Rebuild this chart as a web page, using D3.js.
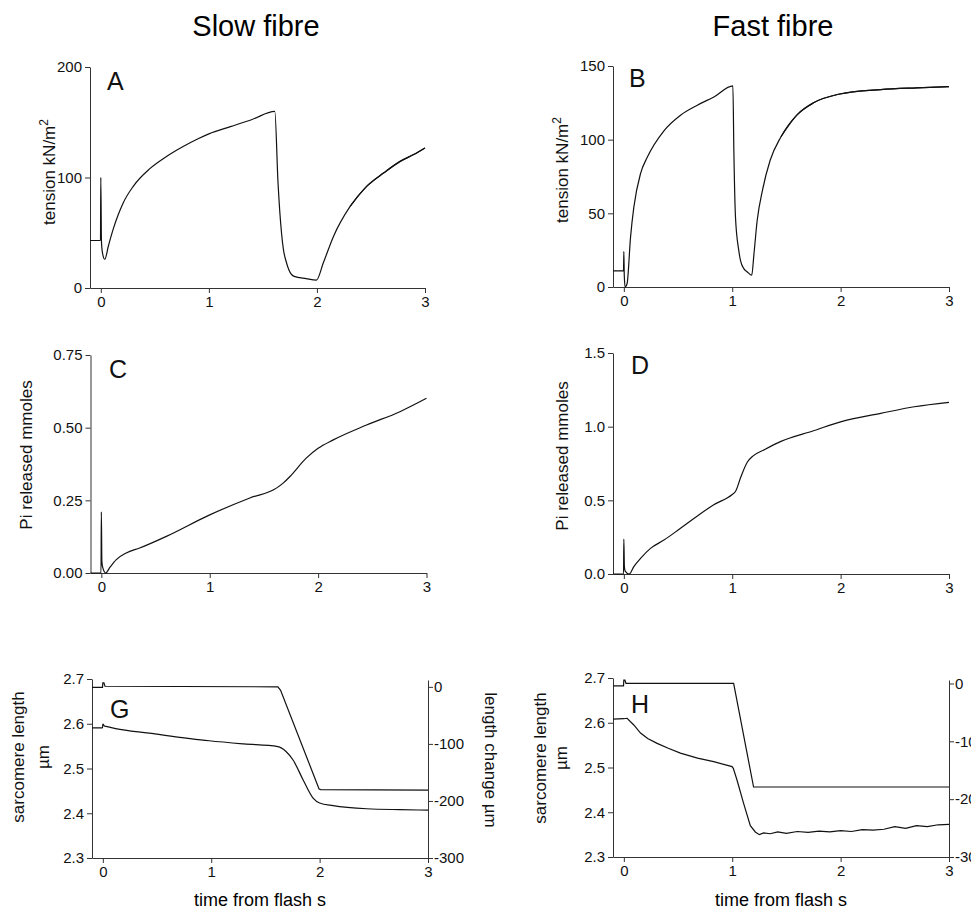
<!DOCTYPE html>
<html lang="en">
<head>
<meta charset="UTF-8">
<script src="https://d3js.org/d3.v7.min.js"></script>
<title>Slow and fast fibre</title>
<style>
  body { margin: 0; background: #fff; }
  svg { display: block; font-family: Arial, "Liberation Sans", sans-serif; }
  .axis path, .axis line { stroke: #333; }
  .axis text { font-size: 15px; fill: #111; }
  .trace { fill: none; stroke: #111; stroke-width: 1.2; }
</style>
</head>
<body>
<div id="container"></div>
<script>
// ---- data ----
var timeTicks = [0, 1, 2, 3];

// A: slow fibre tension (kN/m2)
var tA = [-0.1, -0.003, 0, 0.006, 0.015, 0.037, 0.07, 0.114, 0.16, 0.207, 0.3, 0.454, 0.608, 0.762, 0.9, 1.0, 1.2, 1.4, 1.61, 1.64, 1.672, 1.69, 1.715, 1.74, 1.79, 1.9, 1.995, 2.06, 2.153, 2.307, 2.46, 2.616, 2.77, 2.9, 3.0];
var tensionA = [43, 43, 100, 42, 32, 26, 38, 53, 66, 77, 92, 108, 119, 128, 135, 139.5, 146, 152.5, 159.8, 95, 50, 34.7, 24, 16.6, 10.5, 8.5, 7.2, 23, 46.7, 73.8, 92, 104, 114.6, 121, 126.7];
var ticksA = [0, 100, 200];

// B: fast fibre tension
var tB = [-0.1, -0.003, 0, 0.004, 0.012, 0.03, 0.062, 0.092, 0.154, 0.216, 0.37, 0.523, 0.678, 0.831, 1.006, 1.015, 1.03, 1.06, 1.076, 1.107, 1.14, 1.18, 1.2, 1.23, 1.28, 1.35, 1.45, 1.6, 1.75, 1.98, 2.37, 2.7, 3.0];
var tensionB = [11, 11, 24, 8, 0, 2.3, 34, 54, 77, 88, 106, 116.6, 123.4, 129, 136.5, 92.8, 47.5, 25, 18, 12.5, 10.2, 8, 22, 45, 66, 86, 102, 117, 125, 130.8, 134, 135.2, 136];
var ticksB = [0, 50, 100, 150];

// C: slow fibre Pi released (mmoles)
var tC = [-0.1, -0.003, 0, 0.005, 0.012, 0.04, 0.08, 0.138, 0.23, 0.354, 0.6, 1.0, 1.37, 1.615, 1.68, 1.74, 1.89, 2.0, 2.14, 2.447, 2.755, 3.0];
var piC = [0, 0, 0.21, 0.04, 0.02, 0.0, 0.02, 0.046, 0.069, 0.086, 0.126, 0.2, 0.258, 0.292, 0.31, 0.332, 0.395, 0.429, 0.458, 0.509, 0.555, 0.601];
var ticksC = [0, 0.25, 0.5, 0.75];

// D: fast fibre Pi released
var tD = [-0.1, -0.003, 0, 0.005, 0.012, 0.05, 0.092, 0.154, 0.246, 0.37, 0.523, 0.83, 1.0, 1.03, 1.08, 1.14, 1.19, 1.3, 1.45, 1.75, 2.0, 2.37, 2.68, 3.0];
var piD = [0, 0, 0.237, 0.05, 0.02, 0, 0.05, 0.106, 0.174, 0.23, 0.31, 0.47, 0.54, 0.56, 0.66, 0.76, 0.8, 0.845, 0.9, 0.972, 1.033, 1.09, 1.135, 1.165];
var ticksD = [0, 0.5, 1.0, 1.5];

// G: slow fibre length change (um) and sarcomere length (um)
var tGlen = [-0.1, -0.003, 0, 0.01, 0.02, 1.615, 1.64, 1.995, 2.01, 3.0];
var lenChangeG = [-1, -1, 7, 7, 1, 0, -6, -179, -180, -181];
var tGsarc = [-0.1, -0.003, 0, 0.015, 0.03, 0.118, 0.426, 0.982, 1.3, 1.615, 1.69, 1.755, 1.847, 1.94, 2.0, 2.125, 2.435, 2.74, 3.0];
var sarcG = [2.591, 2.591, 2.599, 2.595, 2.594, 2.589, 2.579, 2.562, 2.555, 2.549, 2.538, 2.519, 2.475, 2.434, 2.423, 2.417, 2.41, 2.408, 2.407];

// H: fast fibre
var tHlen = [-0.1, -0.003, 0, 0.01, 0.02, 1.013, 1.197, 1.21, 3.0];
var lenChangeH = [-4, -4, 6, 6, 0, 0, -179, -179, -179];
var tHsarc = [-0.1, 0.0, 0.03, 0.092, 0.154, 0.22, 0.307, 0.41, 0.522, 0.68, 0.829, 0.998, 1.01, 1.044, 1.105, 1.167, 1.213, 1.25, 1.29, 1.35, 1.42, 1.5, 1.6, 1.7, 1.8, 1.9, 2.0, 2.1, 2.2, 2.3, 2.4, 2.5, 2.6, 2.7, 2.8, 2.9, 3.0];
var sarcH = [2.608, 2.609, 2.61, 2.595, 2.577, 2.565, 2.554, 2.543, 2.532, 2.521, 2.513, 2.502, 2.498, 2.472, 2.42, 2.37, 2.356, 2.35, 2.354, 2.352, 2.356, 2.353, 2.357, 2.355, 2.358, 2.356, 2.359, 2.357, 2.361, 2.36, 2.362, 2.368, 2.364, 2.37, 2.368, 2.372, 2.373];
var ticksSarc = [2.3, 2.4, 2.5, 2.6, 2.7];
var ticksLen = [0, -100, -200, -300];

var width = 971, height = 910;

var svg = d3.select("#container").append("svg")
  .attr("width", width).attr("height", height);
svg.append("rect").attr("width", width).attr("height", height).attr("fill", "#fff");

// one panel: x axis (time) + left y axis
function panel(p) {
  var x = d3.scaleLinear().domain([-0.1, 3]).range([p.x0, p.x1]);
  var y = d3.scaleLinear().domain(p.yDomain).range([p.yBot, p.yTop]);
  svg.append("g").attr("class", "axis")
    .attr("transform", "translate(0," + p.yBot + ")")
    .call(d3.axisBottom(x).tickValues(timeTicks).tickSize(5).tickSizeOuter(0).tickPadding(3).tickFormat(d3.format("d")));
  svg.append("g").attr("class", "axis")
    .attr("transform", "translate(" + p.x0 + ",0)")
    .call(d3.axisLeft(y).tickValues(p.yTicks).tickSize(5).tickSizeOuter(0).tickPadding(3).tickFormat(d3.format(p.fmt)));
  return { x: x, y: y };
}

function trace(sc, ts, vs, curve, w) {
  var pts = ts.map(function (t, i) { return [t, vs[i]]; });
  svg.append("path").datum(pts)
    .attr("class", "trace")
    .attr("stroke-width", w || 1.2)
    .attr("d", d3.line().x(function (d) { return sc.x(d[0]); })
      .y(function (d) { return sc.y(d[1]); }).curve(curve || d3.curveMonotoneX));
  return pts;
}

function thick(sc, pts, from, w) {
  svg.append("path").datum(pts.filter(function (d) { return d[0] >= from; }))
    .attr("class", "trace").attr("stroke-width", w)
    .attr("d", d3.line().x(function (d) { return sc.x(d[0]); })
      .y(function (d) { return sc.y(d[1]); }).curve(d3.curveMonotoneX));
}

function vlabel(x, y, rot, parts, size) {
  var t = svg.append("text").attr("transform", "translate(" + x + "," + y + ") rotate(" + rot + ")")
    .attr("text-anchor", "middle").attr("font-size", size || 17).attr("fill", "#111");
  parts.forEach(function (s) {
    var sp = t.append("tspan").text(s.t);
    if (s.sup) sp.attr("baseline-shift", "super").attr("font-size", 12);
  });
}

function letter(x, y, s) {
  svg.append("text").attr("x", x).attr("y", y).attr("font-size", 25).attr("fill", "#111").text(s);
}

// titles
svg.append("text").attr("x", 256).attr("y", 36).attr("text-anchor", "middle").attr("font-size", 29).text("Slow fibre");
svg.append("text").attr("x", 773).attr("y", 36).attr("text-anchor", "middle").attr("font-size", 29).text("Fast fibre");

// A
var sA = panel({ x0: 90, x1: 425, yTop: 67, yBot: 288, yDomain: [0, 200], yTicks: ticksA, fmt: "d" });
var pA = trace(sA, tA, tensionA);
thick(sA, pA, 2.3, 2.0);
letter(107, 90, "A");
vlabel(55, 172, -90, [{ t: "tension kN/m" }, { t: "2", sup: true }]);

// B
var sB = panel({ x0: 613, x1: 949, yTop: 66, yBot: 287, yDomain: [0, 150], yTicks: ticksB, fmt: "d" });
var pB = trace(sB, tB, tensionB);
thick(sB, pB, 1.45, 2.2);
letter(629, 87, "B");
vlabel(568, 170, -90, [{ t: "tension kN/m" }, { t: "2", sup: true }]);

// C
var sC = panel({ x0: 90.5, x1: 426.5, yTop: 355, yBot: 573, yDomain: [0, 0.75], yTicks: ticksC, fmt: ".2f" });
trace(sC, tC, piC, null, 1.3);
letter(109, 378, "C");
vlabel(32, 455, -90, [{ t: "Pi released mmoles" }]);

// D
var sD = panel({ x0: 613, x1: 949, yTop: 353, yBot: 574, yDomain: [0, 1.5], yTicks: ticksD, fmt: ".1f" });
trace(sD, tD, piD, null, 1.3);
letter(631, 374, "D");
vlabel(568, 456, -90, [{ t: "Pi released mmoles" }]);

// G
var sG = panel({ x0: 92, x1: 428, yTop: 679, yBot: 858, yDomain: [2.3, 2.7], yTicks: ticksSarc, fmt: ".1f" });
var yGr = d3.scaleLinear().domain([-300, 12]).range([858, 680]);
svg.append("g").attr("class", "axis").attr("transform", "translate(428,0)")
  .call(d3.axisRight(yGr).tickValues(ticksLen).tickSize(5).tickSizeOuter(0).tickPadding(1).tickFormat(function (d) { return String(d); }));
trace({ x: sG.x, y: yGr }, tGlen, lenChangeG, d3.curveLinear);
trace(sG, tGsarc, sarcG, null, 1.3);
letter(110, 718, "G");
vlabel(24, 757, -90, [{ t: "sarcomere length" }]);
vlabel(49, 757, -90, [{ t: "\u00b5m" }]);
vlabel(485, 760, 90, [{ t: "length change \u00b5m" }]);
svg.append("text").attr("x", 260).attr("y", 906).attr("text-anchor", "middle").attr("font-size", 18).text("time from flash s");

// H
var sH = panel({ x0: 613, x1: 949, yTop: 678, yBot: 857, yDomain: [2.3, 2.7], yTicks: ticksSarc, fmt: ".1f" });
var yHr = d3.scaleLinear().domain([-300, 6]).range([857, 680]);
svg.append("g").attr("class", "axis").attr("transform", "translate(949,0)")
  .call(d3.axisRight(yHr).tickValues(ticksLen).tickSize(5).tickSizeOuter(0).tickPadding(1).tickFormat(function (d) { return String(d); }));
trace({ x: sH.x, y: yHr }, tHlen, lenChangeH, d3.curveLinear);
trace(sH, tHsarc, sarcH, d3.curveLinear, 1.5);
letter(631, 713, "H");
vlabel(546, 758, -90, [{ t: "sarcomere length" }]);
vlabel(567, 758, -90, [{ t: "\u00b5m" }]);
svg.append("text").attr("x", 781).attr("y", 906).attr("text-anchor", "middle").attr("font-size", 18).text("time from flash s");
</script>
</body>
</html>
